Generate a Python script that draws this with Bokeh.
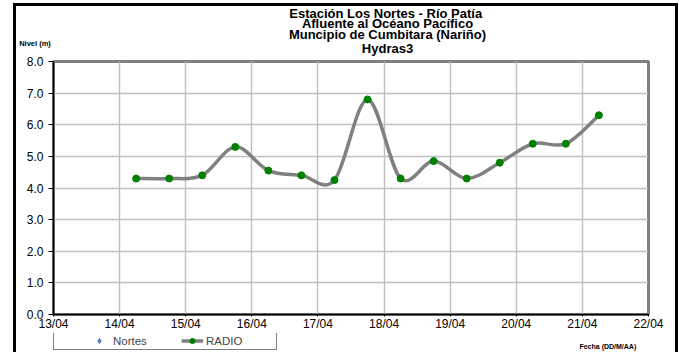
import pandas as pd
from bokeh.plotting import figure
from bokeh.layouts import column
from bokeh.models import (Range1d, FixedTicker, DatetimeTickFormatter, Legend, LegendItem,
                          LinearAxis, PrintfTickFormatter, InlineStyleSheet, Label)
from bokeh.embed import file_html
from bokeh.resources import INLINE

# ---------------- data ----------------
fechas = ["2011-04-14 06:00", "2011-04-14 18:00", "2011-04-15 06:00", "2011-04-15 18:00",
          "2011-04-16 06:00", "2011-04-16 18:00", "2011-04-17 06:00", "2011-04-17 18:00",
          "2011-04-18 06:00", "2011-04-18 18:00", "2011-04-19 06:00", "2011-04-19 18:00",
          "2011-04-20 06:00", "2011-04-20 18:00", "2011-04-21 06:00"]
radio = [4.3, 4.3, 4.4, 5.3, 4.55, 4.4, 4.25, 6.8, 4.3, 4.85, 4.3, 4.8, 5.4, 5.4, 6.3]
nortes_fechas = []
nortes = []
dias = ["2011-04-13", "2011-04-14", "2011-04-15", "2011-04-16", "2011-04-17",
        "2011-04-18", "2011-04-19", "2011-04-20", "2011-04-21", "2011-04-22"]
y_ticks = [0, 1, 2, 3, 4, 5, 6, 7, 8]
titulo = ["Estación Los Nortes  - Río Patía", "Afluente al Océano Pacífico",
          "Muncipio de Cumbitara (Nariño)"]
subtitulo = "Hydras3"
eje_y = "Nivel (m)"
eje_x = "Fecha (DD/M/AA)"
series = ["Nortes", "RADIO"]

def to_ms(lst):
    return [pd.Timestamp(s).value / 1e6 for s in lst]

xr = to_ms(fechas)
day_ms = to_ms(dias)
DAY = 86400000.0

W, H1, H2 = 679, 333, 19
ML, MR, MT, MB = 53, 31, 61, 18
DAY_PX = (W - ML - MR) / (len(dias) - 1)
def px_x(px):  # page pixel -> x data (for placing the title tick)
    return day_ms[0] + (px - ML) / DAY_PX * DAY

FONT = "Liberation Sans"

p = figure(width=W, height=H1, output_backend="svg", toolbar_location=None,
           x_range=Range1d(day_ms[0], day_ms[-1]), y_range=Range1d(y_ticks[0], y_ticks[-1]),
           x_axis_type="datetime",
           min_border_left=ML, min_border_right=MR, min_border_top=MT, min_border_bottom=MB)
p.background_fill_color = "white"
p.border_fill_color = "white"
p.outline_line_color = "#808080"
p.outline_line_width = 3

# main axes
p.xaxis.ticker = FixedTicker(ticks=day_ms)
fmt = "%d/%m"
p.xaxis.formatter = DatetimeTickFormatter(microseconds=fmt, milliseconds=fmt, seconds=fmt,
                                          minsec=fmt, minutes=fmt, hourmin=fmt, hours=fmt,
                                          days=fmt, months=fmt, years=fmt)
p.yaxis.ticker = FixedTicker(ticks=y_ticks)
p.yaxis.formatter = PrintfTickFormatter(format="%.1f")
for ax in (p.xaxis, p.yaxis):
    ax.axis_line_color = "black"
    ax.axis_line_width = 1.5
    ax.major_tick_line_color = "black"
    ax.major_tick_line_width = 1
    ax.major_tick_in = 0
    ax.minor_tick_line_color = None
    ax.major_label_text_font = FONT
    ax.major_label_text_font_size = "12px"
    ax.major_label_text_color = "black"
p.yaxis.major_tick_out = 5
p.yaxis.major_label_standoff = 5
p.xaxis.major_tick_out = 2
p.xaxis.major_label_standoff = 0

# "Nivel (m)" as horizontal y-axis label at the top-left
yax = p.yaxis[0]
yax.axis_label = eje_y + "\n\n\n\n"
yax.axis_label_text_font = FONT
yax.axis_label_text_font_style = "bold"
yax.axis_label_text_font_size = "7.5px"
yax.axis_label_text_color = "black"
yax.axis_label_text_line_height = 1.0
yax.axis_label_standoff = -27
yax.axis_label_orientation = "horizontal"
yax.axis_label_align = "end"

p.xgrid.ticker = FixedTicker(ticks=day_ms)
p.ygrid.ticker = FixedTicker(ticks=y_ticks)
for g in (p.xgrid, p.ygrid):
    g.grid_line_color = "#c0c0c0"
    g.grid_line_width = 1.5

def text_axis(tick_px, text, size, standoff, line_height=1.0):
    t = px_x(tick_px)
    return LinearAxis(ticker=FixedTicker(ticks=[t]), major_label_overrides={t: text},
                      axis_line_color=None, major_tick_line_color=None,
                      minor_tick_line_color=None, major_tick_out=0, major_tick_in=0,
                      major_label_standoff=standoff, major_label_text_font=FONT,
                      major_label_text_font_style="bold", major_label_text_font_size=size,
                      major_label_text_color="black", major_label_text_align="center",
                      major_label_text_line_height=line_height)

# title lines (above the frame)
p.add_layout(text_axis(387, subtitulo, "13px", 6), "above")
p.add_layout(text_axis(387, "\n".join(titulo), "13px", -4, 0.69), "above")

# smooth line (Excel-like smoothing via cubic Bezier segments through the data points)
n = len(xr)
x0s, y0s, x1s, y1s, cx0, cy0, cx1, cy1 = [], [], [], [], [], [], [], []
for i in range(n - 1):
    a = i - 1 if i > 0 else i
    d = i + 2 if i + 2 < n else i + 1
    x0s.append(xr[i]); y0s.append(radio[i])
    x1s.append(xr[i + 1]); y1s.append(radio[i + 1])
    cx0.append(xr[i] + (xr[i + 1] - xr[a]) / 6.0)
    cy0.append(radio[i] + (radio[i + 1] - radio[a]) / 6.0)
    cx1.append(xr[i + 1] - (xr[d] - xr[i]) / 6.0)
    cy1.append(radio[i + 1] - (radio[d] - radio[i]) / 6.0)
p.bezier(x0=x0s, y0=y0s, x1=x1s, y1=y1s, cx0=cx0, cy0=cy0, cx1=cx1, cy1=cy1,
         line_color="#808080", line_width=3.5)
p.scatter(xr, radio, marker="circle", size=7, fill_color="#008000", line_color="#008000")
p.scatter(x=to_ms(nortes_fechas), y=nortes, marker="diamond", size=9,
          fill_color="#4F81BD", line_color="#4F81BD")

# ---------- legend strip (its own small figure so the legend is not clipped) ----------
q = figure(width=W, height=H2, output_backend="svg", toolbar_location=None,
           x_range=Range1d(0, W), y_range=Range1d(0, H2),
           x_axis_location=None, y_axis_location=None,
           min_border_left=0, min_border_right=0, min_border_top=0, min_border_bottom=0)
q.grid.visible = False
q.outline_line_color = None
q.background_fill_color = "white"
q.border_fill_color = "white"
nan = [float("nan")]
ln = q.line(x=nan, y=nan, line_color="#808080", line_width=3.5)
dot = q.scatter(x=nan, y=nan, marker="circle", size=7, fill_color="#008000",
                line_color="#008000")
dia = q.scatter(x=nan, y=nan, marker="diamond", size=9, fill_color="#4F81BD",
                line_color="#4F81BD")
legend = Legend(items=[LegendItem(label=series[0], renderers=[dia]),
                       LegendItem(label=series[1], renderers=[ln, dot])],
                orientation="horizontal", location=(0, 2),
                title=" ", title_location="left", title_standoff=20,
                title_text_font_size="11.5px",
                padding=2, margin=0, spacing=0, glyph_width=22, glyph_height=13,
                label_height=13, label_width=68, label_standoff=3,
                label_text_font=FONT, label_text_font_size="11.5px",
                border_line_color="black", border_line_width=1.5,
                background_fill_color="white", background_fill_alpha=1)
q.add_layout(legend, "center")
q.add_layout(Label(x=665, y=6.5, text=eje_x, text_align="right", text_baseline="alphabetic",
                   text_font=FONT, text_font_style="bold", text_font_size="7px",
                   text_color="black"))

lay = column(p, q, spacing=0)
lay.stylesheets = [InlineStyleSheet(css="""
:host { position: relative; }
:host::after { content: ''; position: absolute; left: 13px; top: 3px; right: 1px; bottom: 0;
  border: 3px solid black; border-bottom: none; box-sizing: border-box; pointer-events: none; }
""")]

open("out.html", "w").write(file_html(lay, INLINE))
